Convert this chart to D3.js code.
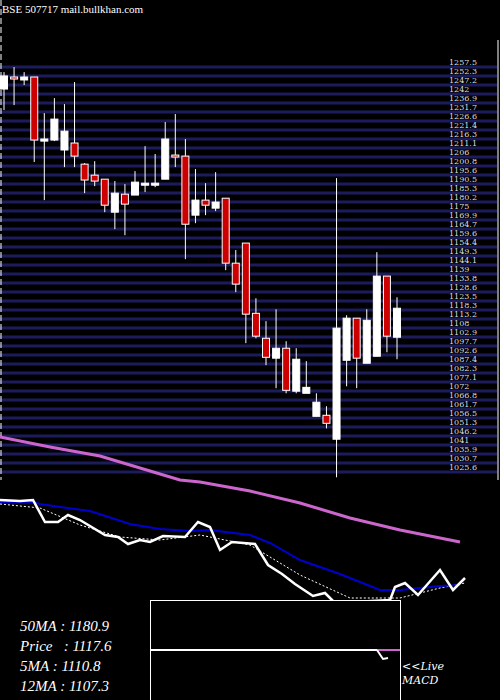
<!DOCTYPE html>
<html>
<head>
<meta charset="utf-8">
<script src="https://cdn.jsdelivr.net/npm/d3@7"></script>
<style>
  body { margin: 0; background: #000; }
  svg { display: block; background: #000; }
</style>
</head>
<body>
<div id="chart"></div>
<script>
// candles: open, high, low, close
const opens  = [1244.3,1251.2,1249.5,1251.2,1214.5,1215.1,1209.4,1213.4,1201.3,1195.0,1192.7,1173.8,1184.1,1183.6,1189.3,1189.9,1192.7,1206.5,1205.9,1172.1,1180.7,1176.1,1181.8,1144.6,1156.1,1115.9,1101.6,1090.2,1095.9,1071.3,1070.1,1056.9,1057.5,1043.8,1089.0,1113.1,1087.3,1091.3,1137.2,1102.2];
const highs  = [1254.0,1256.9,1254.0,1251.2,1230.5,1239.1,1235.7,1248.3,1201.9,1203.0,1192.7,1191.6,1189.9,1197.3,1211.6,1207.1,1225.4,1230.0,1215.7,1198.5,1190.4,1196.7,1181.8,1152.1,1156.1,1124.5,1111.4,1118.2,1099.9,1095.9,1088.5,1070.1,1062.7,1193.3,1114.8,1113.1,1118.2,1150.9,1137.2,1125.1];
const lows   = [1232.3,1235.1,1246.6,1202.5,1180.7,1214.5,1199.6,1199.6,1184.7,1188.7,1173.8,1164.1,1160.6,1183.6,1185.3,1188.1,1192.7,1199.6,1146.9,1167.5,1172.1,1174.4,1140.6,1128.0,1098.8,1101.6,1086.2,1073.0,1070.1,1070.1,1070.1,1056.9,1050.0,1022.0,1074.1,1073.0,1087.3,1091.3,1093.6,1089.6];
const closes = [1251.8,1250.1,1251.2,1215.1,1215.7,1227.1,1220.2,1205.9,1192.2,1191.6,1177.8,1184.7,1178.4,1191.0,1190.4,1190.4,1215.7,1205.4,1166.9,1180.7,1177.8,1179.6,1144.6,1132.6,1115.4,1102.8,1090.7,1095.9,1071.8,1089.6,1073.5,1065.0,1052.9,1107.4,1113.1,1090.2,1111.9,1137.2,1102.8,1118.8];

const priceTicks = [1257.5,1252.3,1247.2,1242.0,1236.9,1231.7,1226.6,1221.4,1216.3,1211.1,1206.0,1200.8,1195.6,1190.5,1185.3,1180.2,1175.0,1169.9,1164.7,1159.6,1154.4,1149.3,1144.1,1139.0,1133.8,1128.6,1123.5,1118.3,1113.2,1108.0,1102.9,1097.7,1092.6,1087.4,1082.3,1077.1,1072.0,1066.8,1061.7,1056.5,1051.3,1046.2,1041.0,1035.9,1030.7,1025.6];

// lower panel lines: [day, value]
const ma50Line  = [[0,1183],[5,1173],[10,1164],[18,1140],[20,1138],[25,1129],[30,1117],[35,1102],[40,1090],[46,1078]];
const ma12Line  = [[0,1118],[3.3,1118],[4,1116],[6,1113],[9,1109],[13,1096],[16,1091],[19,1089],[21,1090],[25,1085],[27,1077],[30,1060],[34,1046],[38,1030],[40,1030],[42,1032],[44,1034],[46,1035]];
const priceLine = [[0,1120],[2,1119],[3.3,1120],[4.5,1098],[5.8,1098],[6.8,1105],[8,1100],[10.5,1085],[11.8,1083],[12.8,1076],[14,1080],[15,1078],[16.3,1084],[18.5,1083],[19.8,1098],[21,1093],[22,1070],[23.2,1078],[25.5,1076],[26.8,1055],[28.2,1046],[29.5,1036],[31.3,1024],[32.5,1027],[33.5,1017],[39,1020],[39.5,1033],[40.5,1037],[41.8,1025],[44,1050],[45.3,1030],[46.5,1042]];
const ma5Line   = [[0,1116],[4,1112],[8,1095],[12,1083],[16,1080],[20,1085],[25,1075],[30,1045],[35,1022],[40,1022],[44,1032],[46.5,1037]];

const legendLines = ["50MA : 1180.9", "Price   : 1117.6", "5MA : 1110.8", "12MA : 1107.3"];

const width = 500, height = 700;

const svg = d3.select("#chart").append("svg")
  .attr("width", width).attr("height", height);

// Scales
const x = d3.scaleLinear().domain([0, 39]).range([4, 397]);
const y = d3.scaleLinear().domain([1257.5, 1025.6]).range([66, 471]);
const xl = d3.scaleLinear().domain([0, 46.5]).range([0, 465]);
const yl = d3.scaleLinear().domain([1200, 1000]).range([420, 620]);

// Stripes
svg.append("g").selectAll("line")
  .data(priceTicks)
  .join("line")
    .attr("x1", 0).attr("x2", 497)
    .attr("y1", d => y(d) + 1).attr("y2", d => y(d) + 1)
    .attr("stroke", "#1c1c5c").attr("stroke-width", 3);

// Tick labels (packed tight, as in the original)
svg.append("g").selectAll("text")
  .data(priceTicks)
  .join("text")
    .attr("x", 449).attr("y", d => y(d) - 1)
    .attr("fill", "#ddd")
    .style("font", "8px 'DejaVu Serif', serif")
    .text(d => d);

// left dashed line and right edge
svg.append("line").attr("x1", 1).attr("x2", 1).attr("y1", 0).attr("y2", 480)
  .attr("stroke", "#fff").attr("stroke-dasharray", "6,3");
svg.append("line").attr("x1", 498).attr("x2", 498).attr("y1", 40).attr("y2", 480)
  .attr("stroke", "#fff");

// Candles
const idx = d3.range(opens.length);
const candles = svg.append("g");
candles.selectAll("line")
  .data(idx)
  .join("line")
    .attr("x1", i => x(i)).attr("x2", i => x(i))
    .attr("y1", i => y(highs[i])).attr("y2", i => y(lows[i]))
    .attr("stroke", "#fff").attr("stroke-width", 1);
candles.selectAll("rect")
  .data(idx)
  .join("rect")
    .attr("x", i => x(i) - 3.5)
    .attr("width", 7)
    .attr("y", i => y(Math.max(opens[i], closes[i])))
    .attr("height", i => Math.max(2, Math.abs(y(opens[i]) - y(closes[i]))))
    .attr("fill", i => closes[i] < opens[i] ? "#cc0000" : "#fff")
    .attr("stroke", "#fff").attr("stroke-width", 1);

// Lower panel lines
const line = d3.line().x(d => xl(d[0])).y(d => yl(d[1]));
svg.append("path").datum(ma50Line).attr("d", line)
  .attr("fill", "none").attr("stroke", "#cc66cc").attr("stroke-width", 3);
svg.append("path").datum(ma5Line).attr("d", line)
  .attr("fill", "none").attr("stroke", "#fff").attr("stroke-width", 1).attr("stroke-dasharray", "2,2");
svg.append("path").datum(ma12Line).attr("d", line)
  .attr("fill", "none").attr("stroke", "#0000cc").attr("stroke-width", 2);
svg.append("path").datum(priceLine).attr("d", line)
  .attr("fill", "none").attr("stroke", "#fff").attr("stroke-width", 2.5);

// MACD box
svg.append("rect").attr("x", 150.5).attr("y", 600.5).attr("width", 250).attr("height", 110)
  .attr("fill", "#000").attr("stroke", "#fff");
svg.append("line").attr("x1", 151).attr("x2", 377).attr("y1", 650).attr("y2", 650)
  .attr("stroke", "#fff").attr("stroke-width", 2);
svg.append("line").attr("x1", 377).attr("x2", 400).attr("y1", 650).attr("y2", 650)
  .attr("stroke", "#cc66cc").attr("stroke-width", 2);
svg.append("path").attr("d", "M377,650 L383,659 L388,658")
  .attr("fill", "none").attr("stroke", "#fff").attr("stroke-width", 2);

svg.append("text").attr("x", 402).attr("y", 670).attr("fill", "#fff")
  .style("font", "italic 11px 'DejaVu Serif', serif").text("<<Live");
svg.append("text").attr("x", 402).attr("y", 684).attr("fill", "#fff")
  .style("font", "italic 11px 'DejaVu Serif', serif").text("MACD");

// Legend
svg.append("g").selectAll("text")
  .data(legendLines)
  .join("text")
    .attr("x", 20).attr("y", (d, i) => 631 + i * 20)
    .attr("fill", "#fff")
    .style("font", "italic 15px 'Liberation Serif', serif")
    .style("white-space", "pre")
    .text(d => d);

// Title
svg.append("text").attr("x", 2).attr("y", 13).attr("fill", "#fff")
  .style("font", "11px 'Liberation Serif', serif")
  .text("BSE 507717 mail.bullkhan.com");
</script>
</body>
</html>
